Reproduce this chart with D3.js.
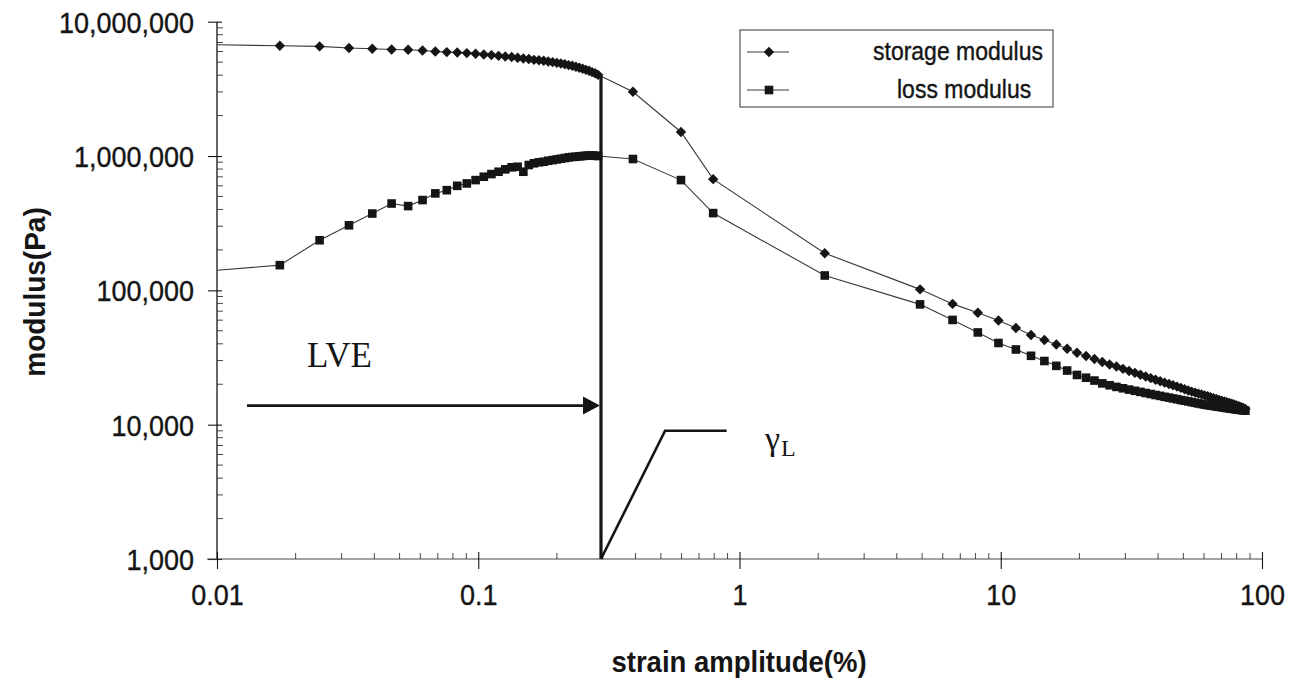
<!DOCTYPE html>
<html>
<head>
<meta charset="utf-8">
<script src="https://cdn.jsdelivr.net/npm/d3@7"></script>
<style>
  html, body { margin: 0; padding: 0; background: #fff; }
  svg { display: block; }
  text { fill: #151515; }
</style>
</head>
<body>
<svg id="chart" width="1297" height="681"></svg>
<script>
// ---------------- data ----------------
const strain = [
  0.01,
  0.0174, 0.0247, 0.032, 0.0393, 0.0466, 0.0539, 0.0612, 0.0685, 0.0758, 0.0831,
  0.0904, 0.0977, 0.105, 0.1123, 0.1196, 0.1269, 0.1342, 0.1415, 0.1488, 0.1561,
  0.1634, 0.1707, 0.178, 0.1853, 0.1926, 0.1999, 0.2072, 0.2145, 0.2218, 0.2291,
  0.2364, 0.2437, 0.251, 0.2583, 0.2656, 0.2729, 0.2802, 0.2875,
  0.391, 0.597, 0.793, 2.12,
  4.91, 6.54, 8.17, 9.80, 11.43, 13.06, 14.69, 16.32, 17.95, 19.58,
  21.21, 22.84, 24.47, 26.10, 27.73, 29.36, 30.99, 32.62, 34.25, 35.88,
  37.51, 39.14, 40.77, 42.40, 44.03, 45.66, 47.29, 48.92, 50.55, 52.18,
  53.81, 55.44, 57.07, 58.70, 60.33, 61.96, 63.59, 65.22, 66.85, 68.48,
  70.11, 71.74, 73.37, 75.00, 76.63, 78.26, 79.89, 81.52, 83.15, 84.78, 86.41
];
const storage = [
  6730000,
  6620000, 6550000, 6370000, 6290000, 6210000, 6180000, 6110000, 6000000, 5940000, 5900000,
  5840000, 5770000, 5700000, 5640000, 5570000, 5510000, 5460000, 5390000, 5320000, 5270000,
  5200000, 5160000, 5120000, 5060000, 5000000, 4940000, 4880000, 4820000, 4750000, 4700000,
  4620000, 4540000, 4460000, 4380000, 4310000, 4210000, 4130000, 4020000,
  3010000, 1510000, 673000, 189000,
  101700, 79300, 68200, 59700, 52500, 46550, 42720, 39540, 36720, 34290,
  32450, 30820, 29270, 28040, 27090, 26040, 25120, 24310, 23530, 22820,
  22200, 21600, 21050, 20550, 20090, 19650, 19210, 18790, 18370, 17970,
  17630, 17330, 17030, 16800, 16520, 16260, 16010, 15770, 15550, 15310,
  15100, 14900, 14700, 14500, 14320, 14130, 13930, 13740, 13530, 13320, 13100
];
const loss = [
  141000,
  154000, 236000, 305000, 373000, 443000, 424000, 470000, 527000, 557000, 600000,
  625000, 662000, 701000, 734000, 764000, 796000, 824000, 832000, 764000, 857000,
  883000, 898000, 907000, 922000, 933000, 944000, 955000, 966000, 977000, 984000,
  988000, 995000, 1000000, 1005000, 1009000, 1009000, 1005000, 1000000,
  950000, 662000, 376000, 129000,
  78630, 60240, 48600, 40570, 36280, 32560, 29780, 27420, 25300, 23450,
  22360, 21300, 20300, 19650, 19110, 18660, 18250, 17870, 17540, 17210,
  16920, 16630, 16380, 16120, 15900, 15680, 15470, 15260, 15080, 14900,
  14720, 14550, 14400, 14250, 14100, 13980, 13860, 13770, 13670, 13580,
  13490, 13390, 13300, 13210, 13140, 13050, 12980, 12920, 12850, 12780, 12720
];
const seriesNames = ["storage modulus", "loss modulus"];
const xTicks = [0.01, 0.1, 1, 10, 100];
const xTickLabels = ["0.01", "0.1", "1", "10", "100"];
const yTicks = [1000, 10000, 100000, 1000000, 10000000];
const yTickLabels = ["1,000", "10,000", "100,000", "1,000,000", "10,000,000"];
const xTitle = "strain amplitude(%)";
const yTitle = "modulus(Pa)";
const lveLimit = 0.295;          // limiting strain (gamma_L)
const lveLabel = "LVE";

// ---------------- layout ----------------
const SANS = '"Liberation Sans", Arial, Helvetica, sans-serif';
const SERIF = '"Liberation Serif", "Times New Roman", Times, serif';
const svg = d3.select("#chart");
const X0 = 217, X1 = 1262, Y0 = 559, Y1 = 21.7;
const x = d3.scaleLog().domain([0.01, 100]).range([X0, X1]);
const y = d3.scaleLog().domain([1000, 1e7]).range([Y0, Y1]);
const ink = "#151515";
const STRETCH = 1.12;   // scanned text is slightly taller than wide
const heavy = sel => sel.attr("stroke", ink).attr("stroke-width", 0.35);

// minor ticks
const xMinor = [], yMinor = [];
for (let e = -2; e < 2; e++) for (let m = 2; m <= 9; m++) xMinor.push(m * Math.pow(10, e));
for (let e = 3; e < 7; e++) for (let m = 2; m <= 9; m++) yMinor.push(m * Math.pow(10, e));

// y axis
const yAxis = d3.axisLeft(y).tickValues(yTicks)
  .tickFormat((d, i) => yTickLabels[i]).tickSize(9).tickPadding(14);
const gy = svg.append("g").attr("transform", `translate(${X0},0)`).call(yAxis);
gy.select(".domain").attr("stroke", ink).attr("stroke-width", 1.3).attr("d", `M0,${Y1}V${Y0}`);
gy.selectAll(".tick line").attr("stroke", ink).attr("stroke-width", 1.1).attr("x2", -9);
gy.selectAll(".tick").append("line").attr("x1", 0).attr("x2", 5).attr("stroke", ink).attr("stroke-width", 1.1);
gy.selectAll(".tick text").each(function () {
  const t = d3.select(this);
  const tx = +t.attr("x");
  t.attr("x", null).attr("transform", `translate(${tx},0) scale(1,${STRETCH})`)
   .attr("dy", "0.35em").attr("font-size", 27).attr("fill", ink)
   .style("font-family", SANS).call(heavy);
});
gy.selectAll(".minor").data(yMinor).join("line").attr("class", "minor")
  .attr("x1", 0).attr("x2", 6).attr("y1", d => y(d)).attr("y2", d => y(d))
  .attr("stroke", "#333").attr("stroke-width", 0.9);

// x axis
const xAxis = d3.axisBottom(x).tickValues(xTicks)
  .tickFormat((d, i) => xTickLabels[i]).tickSize(10).tickPadding(15);
const gx = svg.append("g").attr("transform", `translate(0,${Y0})`).call(xAxis);
gx.select(".domain").attr("stroke", "#444").attr("stroke-width", 1.2).attr("d", `M${X0 - 10},0H${X1}`);
gx.selectAll(".tick line").attr("stroke", ink).attr("stroke-width", 1.1);
gx.selectAll(".tick").append("line").attr("y1", 0).attr("y2", -7).attr("stroke", ink).attr("stroke-width", 1.1);
gx.selectAll(".tick text").each(function () {
  const t = d3.select(this);
  const ty = +t.attr("y");
  t.attr("y", null).attr("transform", `translate(0,${ty}) scale(1,${STRETCH})`)
   .attr("font-size", 27).attr("fill", ink).style("font-family", SANS).call(heavy);
});
gx.selectAll(".minor").data(xMinor).join("line").attr("class", "minor")
  .attr("x1", d => x(d)).attr("x2", d => x(d)).attr("y1", 0).attr("y2", -6)
  .attr("stroke", "#333").attr("stroke-width", 0.9);

// axis titles
svg.append("text").attr("transform", `translate(739,672) scale(1,1.05)`).attr("text-anchor", "middle")
  .attr("font-size", 27.5).attr("font-weight", "bold").style("font-family", SANS).text(xTitle);
svg.append("text").attr("transform", "translate(45,292) rotate(-90) scale(1,1.05)").attr("text-anchor", "middle")
  .attr("font-size", 28).attr("font-weight", "bold").style("font-family", SANS).text(yTitle);

// ---------------- series ----------------
const rows = strain.map((s, i) => ({ s, g1: storage[i], g2: loss[i] }));
const line = key => d3.line().x(d => x(d.s)).y(d => y(d[key]));
svg.append("path").datum(rows).attr("d", line("g1")).attr("fill", "none").attr("stroke", "#3a3a3a").attr("stroke-width", 1.1);
svg.append("path").datum(rows).attr("d", line("g2")).attr("fill", "none").attr("stroke", "#3a3a3a").attr("stroke-width", 1.1);

const R = 5.2, S = 8.6;
const diamond = r => `M0,${-r}L${r},0L0,${r}L${-r},0Z`;
const marked = rows.filter(d => d.s > 0.0101);
svg.append("g").selectAll("path").data(marked).join("path")
  .attr("transform", d => `translate(${x(d.s)},${y(d.g1)})`)
  .attr("d", diamond(R)).attr("fill", ink);
svg.append("g").selectAll("rect").data(marked).join("rect")
  .attr("x", d => x(d.s) - S / 2).attr("y", d => y(d.g2) - S / 2)
  .attr("width", S).attr("height", S).attr("fill", ink);

// ---------------- annotations ----------------
// vertical limit line
svg.append("line").attr("x1", x(lveLimit)).attr("x2", x(lveLimit))
  .attr("y1", y(storage[38])).attr("y2", Y0).attr("stroke", ink).attr("stroke-width", 3.2);
// LVE arrow
const arrY = y(13870);
svg.append("line").attr("x1", x(0.01303)).attr("x2", x(lveLimit) - 14)
  .attr("y1", arrY).attr("y2", arrY).attr("stroke", ink).attr("stroke-width", 2.6);
const tip = x(lveLimit) - 1;
svg.append("path").attr("d", `M${tip},${arrY}L${tip - 17},${arrY - 9}L${tip - 17},${arrY + 9}Z`).attr("fill", ink);
svg.append("text").attr("x", x(0.0221)).attr("y", 367)
  .style("font-family", SERIF).attr("font-size", 35).text(lveLabel);
// gamma_L pointer
svg.append("path")
  .attr("d", `M${x(lveLimit)},${Y0}L${x(0.519)},${y(9020)}H${x(0.893)}`)
  .attr("fill", "none").attr("stroke", ink).attr("stroke-width", 2.6).attr("stroke-linejoin", "miter");
const gl = svg.append("text").attr("x", 765).attr("y", 450).style("font-family", SERIF);
gl.append("tspan").attr("font-size", 34).text("γ");
gl.append("tspan").attr("font-size", 24).attr("dy", 6).attr("dx", 1).text("L");

// ---------------- legend ----------------
const lg = svg.append("g");
lg.append("rect").attr("x", 740).attr("y", 30).attr("width", 313).attr("height", 77)
  .attr("fill", "#fff").attr("stroke", "#555").attr("stroke-width", 1.2);
const legY = [52, 90];
seriesNames.forEach((name, i) => {
  lg.append("line").attr("x1", 747).attr("x2", 789).attr("y1", legY[i]).attr("y2", legY[i])
    .attr("stroke", "#3a3a3a").attr("stroke-width", 1.1);
  if (i === 0) lg.append("path").attr("transform", `translate(769,${legY[i]})`).attr("d", diamond(R)).attr("fill", ink);
  else lg.append("rect").attr("x", 769 - S / 2).attr("y", legY[i] - S / 2).attr("width", S).attr("height", S).attr("fill", ink);
  lg.append("text").attr("transform", `translate(${i === 0 ? 873 : 897},${legY[i] + 8}) scale(1,${STRETCH})`)
    .attr("font-size", 23).style("font-family", SANS).call(heavy).text(name);
});
</script>
</body>
</html>
